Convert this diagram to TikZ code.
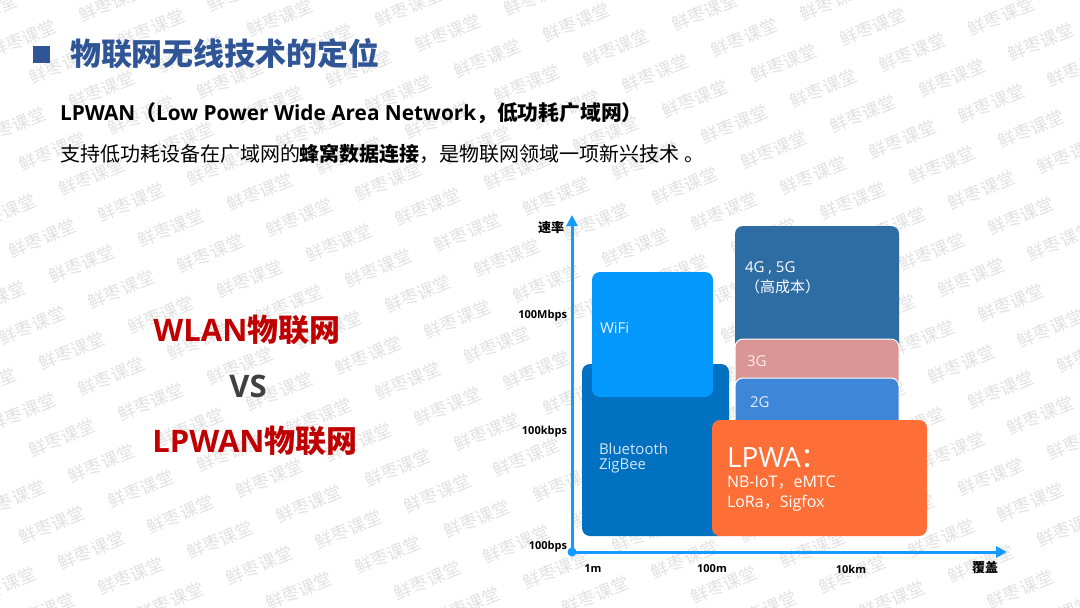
\documentclass[tikz,border=0pt]{standalone}
\usepackage{fontspec}
\setmainfont{Open Sans}
\newfontfamily\cjk{Noto Sans CJK SC}
\usetikzlibrary{arrows.meta}
\definecolor{titleblue}{RGB}{47,85,151}
\definecolor{wmgray}{RGB}{226,226,226}
\definecolor{btblue}{RGB}{0,112,192}
\definecolor{wifiblue}{RGB}{3,152,252}
\definecolor{gblue}{RGB}{46,108,164}
\definecolor{threeg}{RGB}{217,150,148}
\definecolor{twog}{RGB}{62,134,216}
\definecolor{lporange}{RGB}{253,111,54}
\definecolor{axisblue}{RGB}{20,155,255}
\definecolor{darkred}{RGB}{192,0,0}
\definecolor{vsgray}{RGB}{64,64,64}
\begin{document}
\begin{tikzpicture}[x=1pt,y=-1pt,
  every node/.style={inner sep=0pt,outer sep=0pt},
  wm/.style={rotate=23,text=wmgray,font=\cjk\fontsize{17.5pt}{17.5pt}\selectfont},
  chartbox/.style={rounded corners=8pt,anchor=north west},
  boxtext/.style={anchor=west,font=\fontsize{15pt}{15pt}\selectfont},
  axislabel/.style={font=\bfseries\fontsize{11pt}{11pt}\selectfont},
  axisline/.style={draw=axisblue,line width=3pt,-{Triangle[length=11pt,width=11pt]}},
  bigword/.style={font=\bfseries\fontsize{31pt}{31pt}\selectfont}]
\useasboundingbox (0,0) rectangle (1080,608);
\fill[white] (0,0) rectangle (1080,608);
% watermark
\begin{scope}
\clip (0,0) rectangle (1080,608);
\foreach \m in {-25,...,20}{
  \foreach \k in {-8,...,14}{
    \pgfmathsetmacro\wx{52+39.5*\m+89*\k}
    \pgfmathsetmacro\wy{525+25.5*\m-36*\k}
    \pgfmathparse{((\wx>-20)&&(\wx<1100)&&(\wy>-8)&&(\wy<616))?1:0}
    \ifdim\pgfmathresult pt>0.5pt
      \node[wm] (wm-\m-\k) at (\wx,\wy) {鲜枣课堂};
    \fi
  }
}
\end{scope}
% title
\node[fill=titleblue,minimum size=17pt] (bullet) at (41,54) {};
\node[anchor=west,text=titleblue,font=\cjk\bfseries\fontsize{31pt}{31pt}\selectfont] (title) at (70,54) {物联网无线技术的定位};
\node[anchor=west,font=\bfseries\fontsize{20.8pt}{21pt}\selectfont] (lpwan) at (60,113) {LPWAN{\cjk （}Low Power Wide Area Network{\cjk ，低功耗广域网）}};
\node[anchor=west,font=\cjk\fontsize{20pt}{20pt}\selectfont] (desc) at (60,154) {支持低功耗设备在广域网的\textbf{蜂窝数据连接}，是物联网领域一项新兴技术 。};
% left
\node[bigword,text=darkred] (wlan) at (247,330) {WLAN{\cjk 物联网}};
\node[bigword,text=vsgray] (vs) at (248,386) {VS};
\node[bigword,text=darkred] (lpwaniot) at (255,441) {LPWAN{\cjk 物联网}};
% chart boxes
\node[chartbox,fill=btblue,minimum width=147pt,minimum height=172pt] (bt) at (582,364) {};
\node[chartbox,fill=wifiblue,minimum width=121pt,minimum height=125pt] (wifi) at (592,272) {};
\node[chartbox,fill=gblue,minimum width=164pt,minimum height=140pt] (g45) at (735,226) {};
\node[chartbox,fill=threeg,draw=white,line width=1pt,minimum width=164pt,minimum height=60pt] (g3) at (735,339) {};
\node[chartbox,fill=twog,draw=white,line width=1pt,minimum width=164pt,minimum height=60pt] (g2) at (735,378) {};
\node[chartbox,fill=lporange,minimum width=215pt,minimum height=116pt] (lpwa) at (712,420) {};
% box texts
\node[boxtext,text={rgb,255:red,235;green,245;blue,255}] (wifit) at (600,328) {WiFi};
\node[boxtext,text={rgb,255:red,210;green,230;blue,250}] (btt) at (599,449) {Bluetooth};
\node[boxtext,text={rgb,255:red,210;green,230;blue,250}] (zbt) at (599,466) {ZigBee};
\node[boxtext,text=white] (g45t) at (745,268) {4G , 5G};
\node[boxtext,text=white] (costt) at (745,287) {\cjk （高成本）};
\node[boxtext,text={rgb,255:red,255;green,235;blue,235}] (g3t) at (747,361) {3G};
\node[boxtext,text={rgb,255:red,225;green,235;blue,250}] (g2t) at (750,402) {2G};
\node[anchor=west,text=white,font=\fontsize{28pt}{28pt}\selectfont] (lpwat) at (727,458) {LPWA{\cjk ：}};
\node[anchor=west,text=white,font=\fontsize{16pt}{16pt}\selectfont] (nbt) at (727,483) {NB-IoT{\cjk ，}eMTC};
\node[anchor=west,text=white,font=\fontsize{16pt}{16pt}\selectfont] (lort) at (727,503) {LoRa{\cjk ，}Sigfox};
% axes
\coordinate (origin) at (572,552);
\coordinate (ytip) at (572,215);
\coordinate (xtip) at (1007,552);
\draw[axisline] (origin) -- (ytip);
\draw[axisline] (origin) -- (xtip);
\node[circle,fill=axisblue,minimum size=9pt] (odot) at (origin) {};
\node[font=\cjk\bfseries\fontsize{13pt}{13pt}\selectfont] (ylab) at (551,228) {速率};
\node[font=\cjk\bfseries\fontsize{13pt}{13pt}\selectfont] (xlab) at (985,568) {覆盖};
\node[axislabel,anchor=east] (r1) at (567,316) {100Mbps};
\node[axislabel,anchor=east] (r2) at (567,432) {100kbps};
\node[axislabel,anchor=east] (r3) at (567,547) {100bps};
\node[axislabel] (d1) at (593,569) {1m};
\node[axislabel] (d2) at (712,569) {100m};
\node[axislabel] (d3) at (851,569) {10km};
\end{tikzpicture}
\end{document}
